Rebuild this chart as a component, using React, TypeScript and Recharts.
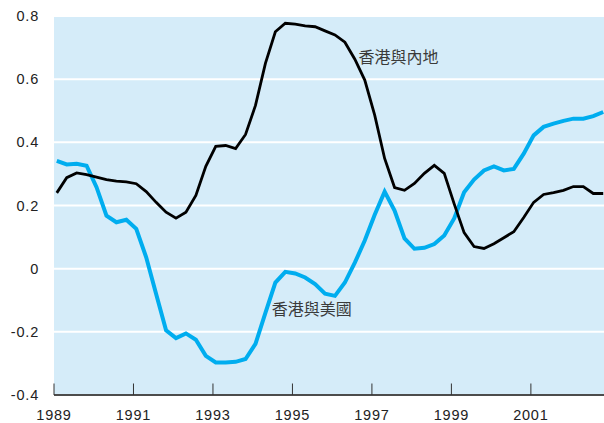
import { LineChart, Line, XAxis, YAxis, CartesianGrid, ReferenceDot } from "recharts"

// quarterly correlation readings, 1989 Q1 .. 2002 Q4
const hkMainland = [
  0.24, 0.288, 0.303, 0.298, 0.29, 0.282, 0.277, 0.275, 0.269, 0.244,
  0.21, 0.179, 0.16, 0.179, 0.232, 0.324, 0.387, 0.39, 0.38, 0.425,
  0.517, 0.65, 0.75, 0.777, 0.774, 0.769, 0.766, 0.753, 0.74, 0.717,
  0.663, 0.597, 0.486, 0.349, 0.257, 0.248, 0.27, 0.302, 0.327, 0.302,
  0.205, 0.114, 0.07, 0.064, 0.079, 0.098, 0.117, 0.162, 0.21, 0.235,
  0.241, 0.248, 0.26, 0.26, 0.238, 0.238,
]

const hkUS = [
  0.341, 0.33, 0.332, 0.326, 0.258, 0.168, 0.147, 0.155, 0.126, 0.036,
  -0.08, -0.195, -0.22, -0.205, -0.225, -0.276, -0.297, -0.297, -0.295, -0.286,
  -0.238, -0.14, -0.044, -0.01, -0.015, -0.028, -0.049, -0.079, -0.086, -0.044,
  0.019, 0.089, 0.171, 0.244, 0.184, 0.096, 0.063, 0.066, 0.078, 0.105,
  0.159, 0.242, 0.282, 0.311, 0.324, 0.311, 0.316, 0.364, 0.422, 0.449,
  0.459, 0.468, 0.475, 0.475, 0.483, 0.496,
]

const xTicks = [1989, 1991, 1993, 1995, 1997, 1999, 2001]
const yTicks = [-0.4, -0.2, 0, 0.2, 0.4, 0.6, 0.8]

const data = hkMainland.map((v, i) => ({
  year: 1989.07 + i * 0.25,
  mainland: v,
  us: hkUS[i],
}))

const tickFont = "'Liberation Sans', Arial, sans-serif"
const cjkFont = "'Noto Sans CJK TC', 'Noto Sans CJK SC', sans-serif"

function YearTick(props: any) {
  const { x, y, payload } = props
  return (
    <g>
      <line x1={x} y1={y} x2={x} y2={y - 11.5} stroke="#333" strokeWidth={1} />
      <text x={x} y={y + 25} textAnchor="middle" fontSize={14.5} fill="#222"
        fontFamily={tickFont} letterSpacing={0.8}>
        {payload.value}
      </text>
    </g>
  )
}

export default function App() {
  return (
    <div style={{ position: "absolute", left: 0, top: 0, width: 604, height: 423, background: "#fff" }}>
      <LineChart width={604} height={423} data={data}
        margin={{ top: 16, right: 0, left: 0, bottom: 0 }}>
        <CartesianGrid vertical={false} stroke="#ffffff" strokeWidth={2} fill="#d5ecf9" />
        <XAxis
          dataKey="year"
          type="number"
          domain={[1989, 2002.84]}
          ticks={xTicks}
          allowDataOverflow
          height={28}
          tickSize={0}
          tickMargin={0}
          tick={<YearTick />}
          axisLine={{ stroke: "#111", strokeWidth: 1.5 }}
        />
        <YAxis
          type="number"
          domain={[-0.4, 0.8]}
          ticks={yTicks}
          width={54}
          tickSize={0}
          tickMargin={15}
          axisLine={false}
          tickFormatter={(v: number) => String(v)}
          tick={{ fontSize: 14.5, fill: "#222", fontFamily: tickFont, letterSpacing: 0.8 }}
        />
        <Line type="linear" dataKey="us" stroke="#00adef" strokeWidth={4}
          dot={false} isAnimationActive={false} />
        <Line type="linear" dataKey="mainland" stroke="#000" strokeWidth={2.8}
          dot={false} isAnimationActive={false} />
        <ReferenceDot x={1996.66} y={0.67} r={0} fill="none" stroke="none"
          label={{ value: "香港與內地", position: "right", offset: 0, fontSize: 16, fill: "#3a3a3a", fontFamily: cjkFont }} />
        <ReferenceDot x={1994.48} y={-0.129} r={0} fill="none" stroke="none"
          label={{ value: "香港與美國", position: "right", offset: 0, fontSize: 16, fill: "#3a3a3a", fontFamily: cjkFont }} />
      </LineChart>
    </div>
  )
}
